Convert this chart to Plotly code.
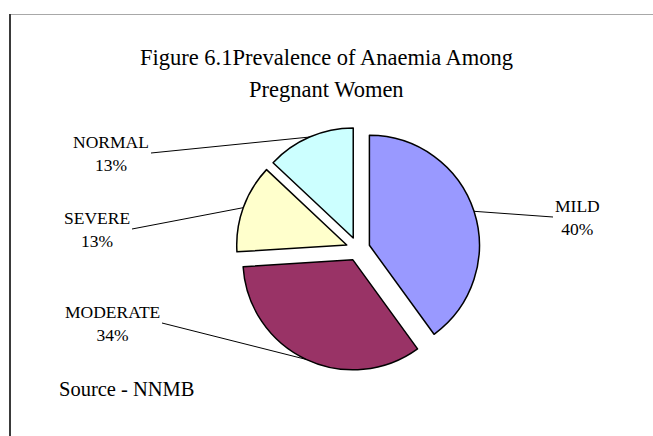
import math
import plotly.graph_objects as go

# Anaemia prevalence among pregnant women (NNMB)
categories = ["MILD", "MODERATE", "SEVERE", "NORMAL"]
shares = [40, 34, 13, 13]
slice_colors = ["#9999FF", "#993366", "#FFFFCC", "#CCFFFF"]

title_lines = ["Figure 6.1Prevalence of Anaemia Among", "Pregnant Women"]
source_note = "Source - NNMB"

# ---- layout constants (pixels) ----
W, H = 653, 436
CX, CY = 358, 249          # pie centre
R = 110                    # pie radius
PULL = 0.109               # explode distance as a fraction of the radius
FONT = "Liberation Serif, Times New Roman, serif"

# where each leader line leaves its label, and which side of the label that is
leader_starts = {
    "MILD": (553, 217, "left"),
    "MODERATE": (162, 323, "right"),
    "SEVERE": (132, 229, "right"),
    "NORMAL": (151, 153, "right"),
}

box = R * (1 + PULL)
domain_x = [(CX - box) / W, (CX + box) / W]
domain_y = [1 - (CY + box) / H, 1 - (CY - box) / H]

fig = go.Figure(
    go.Pie(
        labels=categories,
        values=shares,
        sort=False,
        direction="clockwise",
        rotation=0,
        pull=[PULL] * len(shares),
        marker=dict(colors=slice_colors, line=dict(color="black", width=1.5)),
        textinfo="none",
        hoverinfo="label+percent",
        domain=dict(x=domain_x, y=domain_y),
        showlegend=False,
    )
)

annotations = []

# category labels with leader lines to the middle of each slice's arc
total = sum(shares)
cum = 0
for name, v in zip(categories, shares):
    theta = math.radians((cum + v / 2) / total * 360)
    cum += v
    ex = CX + R * (1 + PULL) * math.sin(theta)
    ey = CY - R * (1 + PULL) * math.cos(theta)
    lx, ly, side = leader_starts[name]
    annotations.append(dict(
        x=ex / W, y=1 - ey / H, xref="paper", yref="paper",
        text=f"{name}<br>{round(v / total * 100)}%",
        showarrow=True, arrowhead=0, arrowwidth=1, arrowcolor="black",
        standoff=0, ax=lx - ex, ay=ly - ey,
        xanchor=side, yanchor="middle",
        font=dict(family=FONT, size=17.5, color="black"), align="center",
    ))

# chart title (two lines)
for text, yc in zip(title_lines, [57, 89]):
    annotations.append(dict(
        x=0.5, y=1 - yc / H, xref="paper", yref="paper",
        xanchor="center", yanchor="middle", showarrow=False,
        text=text, font=dict(family=FONT, size=22.5, color="black"),
    ))

# source note
annotations.append(dict(
    x=57 / W, y=1 - 389 / H, xref="paper", yref="paper",
    xanchor="left", yanchor="middle", showarrow=False,
    text=source_note, font=dict(family=FONT, size=20.5, color="black"),
))

# chart-area frame (left and top edges visible)
shapes = [
    dict(type="line", xref="paper", yref="paper",
         x0=10 / W, x1=1.02, y0=1 - 14.5 / H, y1=1 - 14.5 / H,
         line=dict(color="#A8A8A8", width=1)),
    dict(type="line", xref="paper", yref="paper",
         x0=10 / W, x1=10 / W, y0=1 - 14 / H, y1=-0.02,
         line=dict(color="#3A3A3A", width=2)),
]

fig.update_layout(
    width=W, height=H,
    margin=dict(l=0, r=0, t=0, b=0),
    paper_bgcolor="white", plot_bgcolor="white",
    annotations=annotations, shapes=shapes,
    font=dict(family=FONT, color="black"),
)

fig.write_html("out.html")
